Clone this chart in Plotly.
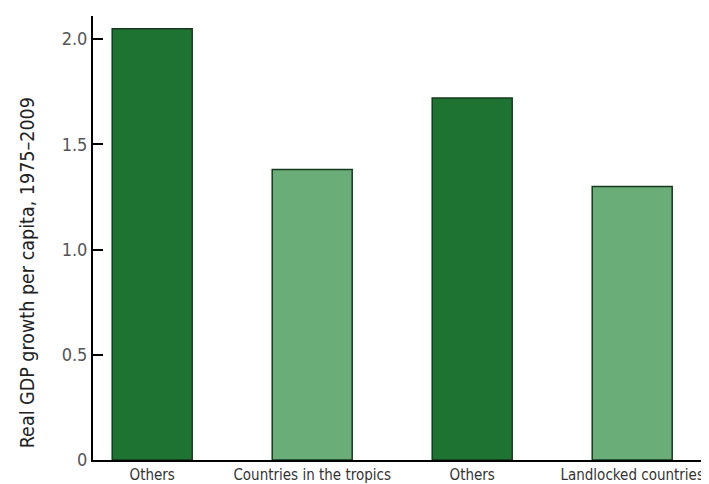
import plotly.graph_objects as go

categories = ["Others", "Countries in the tropics", "Others", "Landlocked countries"]
values = [2.05, 1.38, 1.72, 1.30]
bar_colors = ["#1e7232", "#6bad79", "#1e7232", "#6bad79"]
y_tick_vals = [0, 0.5, 1.0, 1.5, 2.0]
y_tick_text = ["0", "0.5", "1.0", "1.5", "2.0"]
y_title = "Real GDP growth per capita, 1975–2009"

positions = list(range(len(categories)))
font_family = "DejaVu Sans Condensed, Liberation Sans Narrow, sans-serif"

fig = go.Figure(
    go.Bar(
        x=positions,
        y=values,
        marker=dict(color=bar_colors, line=dict(color="#163a1e", width=1.5)),
        width=0.5,
        hoverinfo="skip",
    )
)

fig.add_annotation(
    text=y_title,
    textangle=-90,
    xref="paper",
    x=-0.105,
    xanchor="center",
    yref="y",
    y=0.89,
    yanchor="middle",
    showarrow=False,
    font=dict(size=19.5, color="#222222", family=font_family),
)

fig.update_layout(
    width=709,
    height=484,
    margin=dict(l=85, r=0, t=8, b=32),
    paper_bgcolor="white",
    plot_bgcolor="white",
    showlegend=False,
    font=dict(family=font_family, color="#333333", size=16),
    xaxis=dict(
        range=[-0.37, 3.53],
        tickmode="array",
        tickvals=positions,
        ticktext=categories,
        showgrid=False,
        zeroline=False,
        showline=True,
        linecolor="black",
        linewidth=2,
        ticks="",
        tickfont=dict(size=15, color="#333333"),
    ),
    yaxis=dict(
        range=[0, 2.11],
        tickmode="array",
        tickvals=y_tick_vals,
        ticktext=y_tick_text,
        showgrid=False,
        zeroline=False,
        showline=True,
        linecolor="black",
        linewidth=2,
        ticks="inside",
        ticklen=10,
        tickcolor="black",
        tickwidth=1.5,
        tickfont=dict(size=18, color="#555555"),
    ),
)

fig.write_html("out.html")
